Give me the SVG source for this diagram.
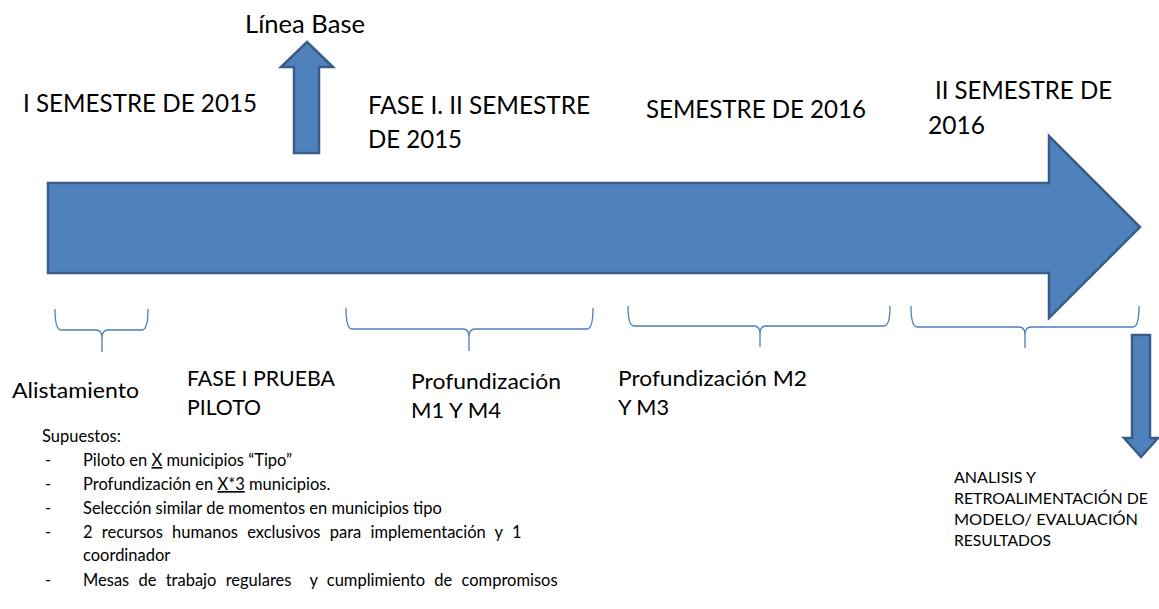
<svg xmlns="http://www.w3.org/2000/svg" width="1159" height="609" viewBox="0 0 1159 609">
<style>
.shape{fill:#4F81BD;stroke:#385D8A;stroke-width:2.5;stroke-linejoin:miter}
.brace{fill:none;stroke:#4A7EBB;stroke-width:1.3}
text{font-family:Lato,"Open Sans","Liberation Sans",sans-serif;fill:#000}
.t1{font-size:25px}
.t2{font-size:22px}
.t3{font-size:16.5px}
.t4{font-size:16px}
</style>
<rect width="1159" height="609" fill="#fff"/>
<g id="connectors">
<polygon id="timeline-arrow" class="shape" points="48,183 1049,183 1049,136 1140,227 1049,318 1049,273 48,273"/>
<polygon id="up-arrow" class="shape" points="307,42 333,67 319,67 319,153 294,153 294,67 281,67"/>
<polygon id="down-arrow" class="shape" points="1132,335 1150,335 1150,438 1158,438 1141,457 1124,438 1132,438"/>
</g>
<g id="brace1"><path class="brace" d="M55,309 Q55,330 61,330 L96,330 Q102,330 102,338 L102,352 M102,338 Q102,330 108,330 L142,330 Q148,330 148,309"/></g>
<g id="brace2"><path class="brace" d="M346,308 Q346,329 352,329 L463,329 Q469,329 469,337 L469,351 M469,337 Q469,329 475,329 L587,329 Q593,329 593,308"/></g>
<g id="brace3"><path class="brace" d="M628,306 Q628,326 634,326 L754,326 Q760,326 760,334 L760,347 M760,334 Q760,326 766,326 L884,326 Q890,326 890,306"/></g>
<g id="brace4"><path class="brace" d="M911,306 Q911,327 917,327 L1019,327 Q1025,327 1025,335 L1025,348 M1025,335 Q1025,327 1031,327 L1133,327 Q1139,327 1139,306"/></g>
<g id="linea-base"><text class="t1" x="245" y="33" textLength="120" lengthAdjust="spacingAndGlyphs">Línea Base</text></g>
<g id="sem1-2015"><text class="t1" x="23" y="112" textLength="234" lengthAdjust="spacingAndGlyphs">I SEMESTRE DE 2015</text></g>
<g id="fase1-sem2-2015"><text class="t1" x="368" y="114" textLength="222" lengthAdjust="spacingAndGlyphs">FASE I. II SEMESTRE</text><text class="t1" x="368" y="148" textLength="94" lengthAdjust="spacingAndGlyphs">DE 2015</text></g>
<g id="sem-2016"><text class="t1" x="646" y="118" textLength="220" lengthAdjust="spacingAndGlyphs">SEMESTRE DE 2016</text></g>
<g id="sem2-2016"><text class="t1" x="935" y="99" textLength="177" lengthAdjust="spacingAndGlyphs">II SEMESTRE DE</text><text class="t1" x="928" y="134" textLength="57" lengthAdjust="spacingAndGlyphs">2016</text></g>
<g id="alistamiento"><text class="t2" x="12" y="398" textLength="127" lengthAdjust="spacingAndGlyphs">Alistamiento</text></g>
<g id="prueba-piloto"><text class="t2" x="187" y="386" textLength="148" lengthAdjust="spacingAndGlyphs">FASE I PRUEBA</text><text class="t2" x="187" y="415" textLength="74" lengthAdjust="spacingAndGlyphs">PILOTO</text></g>
<g id="prof-m1m4"><text class="t2" x="411" y="389" textLength="150" lengthAdjust="spacingAndGlyphs">Profundización</text><text class="t2" x="411" y="418" textLength="90" lengthAdjust="spacingAndGlyphs">M1 Y M4</text></g>
<g id="prof-m2m3"><text class="t2" x="618" y="386" textLength="189" lengthAdjust="spacingAndGlyphs">Profundización M2</text><text class="t2" x="618" y="415" textLength="51" lengthAdjust="spacingAndGlyphs">Y M3</text></g>
<g id="supuestos">
<text class="t3" x="42" y="442">Supuestos:</text>
<text class="t3" x="45" y="466">-</text><text class="t3" x="83" y="466">Piloto en <tspan text-decoration="underline">X</tspan> municipios “Tipo”</text>
<text class="t3" x="45" y="490">-</text><text class="t3" x="83" y="490">Profundización en <tspan text-decoration="underline">X*3</tspan> municipios.</text>
<text class="t3" x="45" y="514">-</text><text class="t3" x="83" y="514">Selección similar de momentos en municipios tipo</text>
<text class="t3" x="45" y="538">-</text><text class="t3" x="83" y="538" word-spacing="5">2 recursos humanos exclusivos para implementación y 1</text>
<text class="t3" x="83" y="561">coordinador</text>
<text class="t3" x="45" y="586">-</text><text class="t3" x="83" y="586" xml:space="preserve" word-spacing="5">Mesas de trabajo regulares  y cumplimiento de compromisos</text>
</g>
<g id="analisis">
<text class="t4" x="954" y="483" textLength="82" lengthAdjust="spacingAndGlyphs">ANALISIS Y</text>
<text class="t4" x="954" y="504" textLength="194" lengthAdjust="spacingAndGlyphs">RETROALIMENTACIÓN DE</text>
<text class="t4" x="954" y="525" textLength="184" lengthAdjust="spacingAndGlyphs">MODELO/ EVALUACIÓN</text>
<text class="t4" x="954" y="546" textLength="97" lengthAdjust="spacingAndGlyphs">RESULTADOS</text>
</g>
</svg>
